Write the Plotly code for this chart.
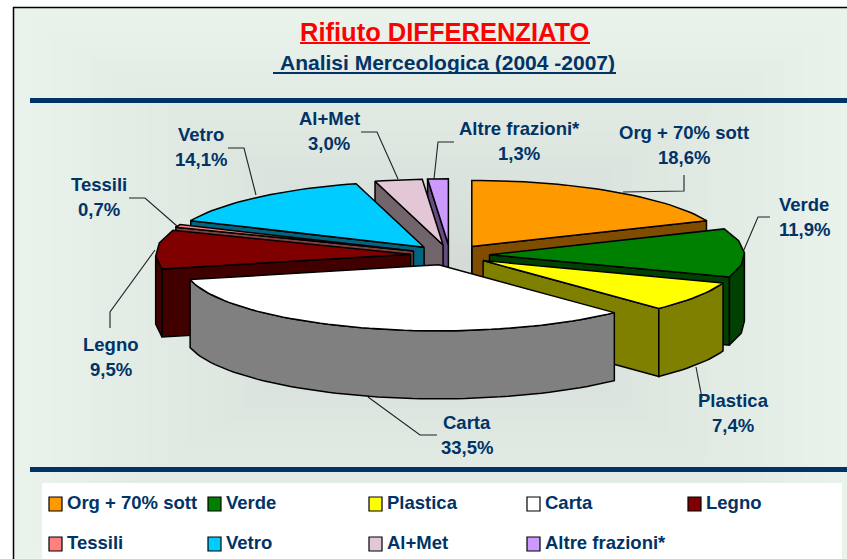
import math
import plotly.graph_objects as go

# ---- data ----
categories = ["Org + 70% sott", "Verde", "Plastica", "Carta", "Legno", "Tessili", "Vetro", "Al+Met", "Altre frazioni*"]
values = [18.6, 11.9, 7.4, 33.5, 9.5, 0.7, 14.1, 3.0, 1.3]
top_colors = ["#FF9900", "#008000", "#FFFF00", "#FFFFFF", "#800000", "#FF8080", "#00CCFF", "#E3C7D6", "#CC99FF"]
side_colors = ["#804D00", "#004000", "#808000", "#808080", "#400000", "#804040", "#006680", "#72646B", "#664D80"]
draw_order = [8, 7, 6, 5, 4, 0, 1, 2, 3]

title_text = "Rifiuto DIFFERENZIATO"
subtitle_text = "Analisi Merceologica (2004 -2007)"

# ---- pie geometry (pixels on a 847x559 axis) ----
CX, CY, RX, RY, DEPTH = 450, 255, 255, 66, 68
EXPL = 0.155
NAVY = "#003366"
FONT = "Liberation Sans"
FACETS = {1: 4, 4: 3}  # slices whose rim is drawn with few straight segments


def pt(theta, ox, oy, dz=0):
    return ox + RX * math.sin(theta), oy - RY * math.cos(theta) + dz


def rim_angles(i, a, b):
    n = FACETS.get(i, max(2, int((b - a) / math.radians(2)) + 1))
    return [a + (b - a) * k / n for k in range(n + 1)]


def poly(points, fill, name):
    xs = [p[0] for p in points] + [points[0][0]]
    ys = [p[1] for p in points] + [points[0][1]]
    return go.Scatter(x=xs, y=ys, mode="lines", fill="toself", fillcolor=fill,
                      line=dict(color="black", width=1.5), name=name,
                      hoverinfo="name", showlegend=False)


traces = []
total = sum(values)
cum = 0
spans = []
for v in values:
    spans.append((cum / total * 2 * math.pi, (cum + v) / total * 2 * math.pi))
    cum += v

for i in draw_order:
    a, b = spans[i]
    mid = (a + b) / 2
    ox = CX + EXPL * RX * math.sin(mid)
    oy = CY - EXPL * RY * math.cos(mid)
    name = f"{categories[i]} {values[i]:.1f}%".replace(".", ",")
    apex = (ox, oy)
    apex_low = (ox, oy + DEPTH)
    if math.sin(a) < -1e-6:
        p = pt(a, ox, oy)
        traces.append(poly([apex, p, (p[0], p[1] + DEPTH), apex_low], side_colors[i], name))
    if math.sin(b) > 1e-6:
        p = pt(b, ox, oy)
        traces.append(poly([apex, p, (p[0], p[1] + DEPTH), apex_low], side_colors[i], name))
    if a < 1e-6:
        traces.append(poly([apex, apex_low], side_colors[i], name))
    angles = rim_angles(i, a, b)
    wall = [t for t in angles if math.cos(t) <= 0.05]
    if len(wall) >= 2:
        traces.append(poly([pt(t, ox, oy) for t in wall] + [pt(t, ox, oy, DEPTH) for t in reversed(wall)],
                           side_colors[i], name))
    traces.append(poly([apex] + [pt(t, ox, oy) for t in angles], top_colors[i], name))

# ---- layout furniture ----
shapes = []
shapes.append(dict(type="rect", x0=13.5, x1=900, y0=7.5, y1=620, fillcolor="#E9F2EB",
                   line=dict(color="black", width=1.5), layer="below"))
edge, centre = (233, 242, 235), (210, 217, 213)
steps = 22
for s in range(1, steps + 1):
    t = s / steps
    col = tuple(round(edge[k] + (centre[k] - edge[k]) * t) for k in range(3))
    shapes.append(dict(type="rect", x0=15 + t * 420, x1=860 - t * 420, y0=9 + t * 270, y1=555 - t * 270,
                       fillcolor=f"rgb{col}", line=dict(width=0), layer="below"))

for y0, y1 in [(98, 103), (467, 472)]:
    shapes.append(dict(type="rect", x0=30, x1=847, y0=y0, y1=y1, fillcolor=NAVY, line=dict(width=0), layer="below"))
shapes.append(dict(type="rect", x0=300, x1=590, y0=42, y1=44, fillcolor="#FF0000", line=dict(width=0), layer="below"))
shapes.append(dict(type="rect", x0=273, x1=616, y0=72, y1=74, fillcolor=NAVY, line=dict(width=0), layer="below"))
shapes.append(dict(type="rect", x0=42, x1=842, y0=483, y1=559, fillcolor="#FFFFFF", line=dict(width=0), layer="below"))

leaders = [
    [(684, 175), (684, 191), (623, 192)],
    [(770, 217), (758, 217), (743, 252)],
    [(696, 367), (702, 398)],
    [(368, 397), (420, 435), (437, 435)],
    [(155, 250), (110, 312), (110, 328)],
    [(177, 226), (145, 198), (129, 198)],
    [(256, 195), (244, 148), (228, 148)],
    [(398, 179), (377, 132), (361, 132)],
    [(434, 179), (438, 142), (454, 142)],
]
for pts in leaders:
    path = "M " + " L ".join(f"{x},{y}" for x, y in pts)
    shapes.append(dict(type="path", path=path, line=dict(color="#222222", width=1.1), layer="below"))

annotations = []


def text(x, y, s, size, color=NAVY, anchor="center"):
    annotations.append(dict(x=x, y=y, xref="x", yref="y", text=f"<b>{s}</b>", showarrow=False,
                            xanchor=anchor, yanchor="middle",
                            font=dict(family=FONT, size=size, color=color)))


text(444.5, 32, title_text, 25.5, "#FF0000")
text(447.5, 62, subtitle_text, 21)

label_xy = [(684, 144.5), (804, 216.5), (733, 413), (467, 435), (111, 357), (99, 197), (201, 147), (329, 131), (519, 141)]
for c, v, (x, y) in zip(categories, values, label_xy):
    pct = f"{v:.1f}%".replace(".", ",")
    text(x, y - 12.5, c, 18.5)
    text(x, y + 12.5, pct, 18.5)

legend_cols = [49, 208, 369, 527, 688]
legend_rows = [504, 544]
legend_text_rows = [502.5, 542]
for i, c in enumerate(categories):
    col = i % 5
    row = i // 5
    x = legend_cols[col]
    y = legend_rows[row]
    shapes.append(dict(type="rect", x0=x, x1=x + 13, y0=y - 7, y1=y + 7, fillcolor=top_colors[i],
                       line=dict(color="black", width=1.2)))
    text(x + 16, legend_text_rows[row], c, 18.5, anchor="left")

fig = go.Figure(traces)
fig.update_layout(
    width=847, height=559, margin=dict(l=0, r=0, t=0, b=0),
    paper_bgcolor="#FFFFFF", plot_bgcolor="rgba(0,0,0,0)",
    xaxis=dict(range=[0, 847], visible=False, fixedrange=True),
    yaxis=dict(range=[559, 0], visible=False, fixedrange=True),
    shapes=shapes, annotations=annotations, showlegend=False,
)
fig.write_html("out.html", config=dict(displayModeBar=False),
               post_script="document.body.style.margin='0';document.body.style.overflow='hidden';")
